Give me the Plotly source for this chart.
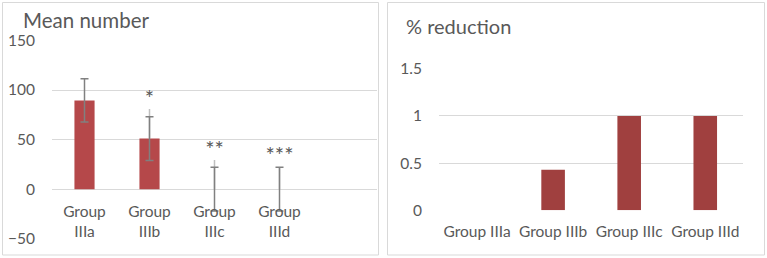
import plotly.graph_objects as go

# ---- data ----
groups_left = ["Group<br>IIIa", "Group<br>IIIb", "Group<br>IIIc", "Group<br>IIId"]
mean_number = [89.5, 51, 0, 0]
err_minus = [21.8, 22, 22, 22]
err_plus = [21.8, 22, 22, 22]
err_plus_ext = [0, 30, 29.3, 22]
signif = ["", "*", "**", "***"]
signif_y = [None, 89, 38, 32]

groups_right = ["Group IIIa", "Group IIIb", "Group IIIc", "Group IIId"]
pct_reduction = [0, 0.43, 1, 1]

W, H = 767, 258
GRAY = "#595959"
GRID = "#D9D9D9"
FONT = "Lato"

def px_x(v):
    return v / W

def px_y(v):
    return 1 - v / H

fig = go.Figure()

xl = list(range(len(groups_left)))
# left bars
fig.add_trace(go.Bar(x=xl, y=mean_number, marker=dict(color="#B5484A", line=dict(width=0)),
                     width=0.31, xaxis="x", yaxis="y", showlegend=False, hoverinfo="skip"))
# light extension of upper error bars
fig.add_trace(go.Scatter(x=xl, y=mean_number, mode="markers", marker=dict(size=0.1, opacity=0),
                         error_y=dict(type="data", symmetric=False, array=err_plus_ext,
                                      arrayminus=[0]*4, color="#BFBFBF", thickness=1.5, width=0),
                         xaxis="x", yaxis="y", showlegend=False, hoverinfo="skip"))
# dark error bars
fig.add_trace(go.Scatter(x=xl, y=mean_number, mode="markers", marker=dict(size=0.1, opacity=0),
                         error_y=dict(type="data", symmetric=False, array=err_plus,
                                      arrayminus=err_minus, color="#808080", thickness=1.5, width=4),
                         xaxis="x", yaxis="y", showlegend=False, hoverinfo="skip"))
# significance marks
fig.add_trace(go.Scatter(x=xl, y=signif_y, mode="text", text=signif,
                         textfont=dict(family=FONT, size=22, color=GRAY),
                         xaxis="x", yaxis="y", showlegend=False, hoverinfo="skip"))

# right bars
xr = list(range(len(groups_right)))
fig.add_trace(go.Bar(x=xr, y=pct_reduction, marker=dict(color="#A0403F", line=dict(width=0)),
                     width=0.31, xaxis="x2", yaxis="y2", showlegend=False, hoverinfo="skip"))

zero_left = px_y(189)

fig.update_layout(
    width=W, height=H, margin=dict(l=0, r=0, t=0, b=0, autoexpand=False),
    paper_bgcolor="white", plot_bgcolor="white",
    font=dict(family=FONT, color=GRAY),
    xaxis=dict(domain=[px_x(52), px_x(377)], range=[-0.5, 4.5], anchor="free",
               position=zero_left, tickmode="array", tickvals=xl, ticktext=groups_left,
               showgrid=False, zeroline=False, showline=False, ticks="", automargin=False,
               tickfont=dict(family=FONT, size=15.5, color=GRAY), ticklabelstandoff=11),
    yaxis=dict(domain=[px_y(238.7), px_y(40.5)], range=[-50, 150], tickvals=[-50, 0, 50, 100, 150],
               showgrid=True, gridcolor=GRID, gridwidth=1, zeroline=False, showline=False,
               ticks="", tickfont=dict(family=FONT, size=15.5, color=GRAY), ticklabelstandoff=16,
               anchor="x", automargin=False),
    xaxis2=dict(domain=[px_x(439), px_x(743.3)], range=[-0.5, 3.5], anchor="y2",
                tickmode="array", tickvals=xr, ticktext=groups_right, automargin=False,
                showgrid=False, zeroline=False, showline=False, ticks="",
                tickfont=dict(family=FONT, size=15.5, color=GRAY), ticklabelstandoff=10),
    yaxis2=dict(domain=[px_y(210.3), px_y(68.7)], range=[0, 1.5], tickvals=[0, 0.5, 1, 1.5],
                showgrid=True, gridcolor=GRID, gridwidth=1, zeroline=False, showline=False,
                ticks="", tickfont=dict(family=FONT, size=15.5, color=GRAY), ticklabelstandoff=16,
                anchor="x2", automargin=False),
    shapes=[
        dict(type="rect", xref="paper", yref="paper", x0=px_x(2.5), x1=px_x(378.5),
             y0=px_y(255), y1=px_y(2.5), line=dict(color=GRID, width=1)),
        dict(type="rect", xref="paper", yref="paper", x0=px_x(387.5), x1=px_x(764.5),
             y0=px_y(255), y1=px_y(2.5), line=dict(color=GRID, width=1)),
    ],
    annotations=[
        dict(text="Mean number", xref="paper", yref="paper", x=px_x(21), y=px_y(20),
             xanchor="left", yanchor="middle", showarrow=False,
             font=dict(family=FONT, size=20.5, color=GRAY)),
        dict(text="% reduction", xref="paper", yref="paper", x=px_x(404), y=px_y(26),
             xanchor="left", yanchor="middle", showarrow=False,
             font=dict(family=FONT, size=20, color=GRAY)),
    ],
)

fig.write_html("out.html", config={"displayModeBar": False},
               post_script="document.body.style.margin='0';document.body.style.padding='0';")
